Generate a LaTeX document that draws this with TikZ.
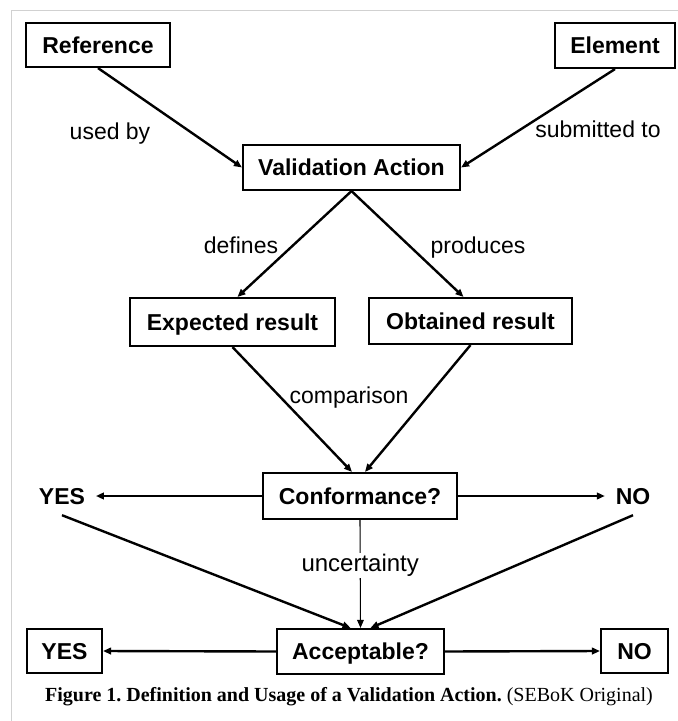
\documentclass[tikz,border=0pt]{standalone}
\usepackage{fontspec}
\setmainfont{Liberation Sans}
\newfontfamily\captionserif{Liberation Serif}
\usetikzlibrary{arrows.meta,calc}
\frenchspacing

\begin{document}
\begin{tikzpicture}[x=0.75pt,y=-0.75pt,
  box/.style={draw,line width=1.6pt,inner sep=0pt,text height=12.4pt,text depth=0pt,font=\fontsize{17.25}{20}\selectfont\bfseries},
  answer/.style={inner sep=8pt,text height=12.4pt,text depth=0pt,font=\fontsize{17.25}{20}\selectfont\bfseries},
  lbl/.style={text height=12.4pt,text depth=3.6pt,font=\fontsize{17.25}{20}\selectfont},
  conn/.style={line width=1.8pt,-{Triangle[length=6pt,width=5pt]}}]
  \useasboundingbox (0,0) rectangle (678,721);
  \draw[black!18,line width=0.75pt] (11,721)--(11,10)--(678,10);
  \node[box,minimum width=108pt,minimum height=33pt] (ref) at (98,45) {Reference};
  \node[box,minimum width=90pt,minimum height=33.75pt] (elem) at (615,45.5) {Element};
  \node[box,minimum width=162.75pt,minimum height=33.75pt] (va) at (351.5,167.5) {Validation Action};
  \node[box,minimum width=153.75pt,minimum height=36pt] (exp) at (232.5,322) {Expected result};
  \node[box,minimum width=152.25pt,minimum height=34.5pt] (obt) at (470.5,321) {Obtained result};
  \node[box,minimum width=145.5pt,minimum height=34.5pt] (conf) at (360,496) {Conformance?};
  \node[box,minimum width=125.25pt,minimum height=33.75pt] (acc) at (360.5,651.5) {Acceptable?};
  \node[box,minimum width=56.25pt,minimum height=33pt] (yesbox) at (64.5,651) {YES};
  \node[box,minimum width=50.25pt,minimum height=33pt] (nobox) at (634.5,651) {NO};
  \node[answer] (yes) at (62,496) {YES};
  \node[answer] (no) at (633,496) {NO};
  \node[lbl] (usedby) at (110,134) {used by};
  \node[lbl] (submitted) at (598,132) {submitted to};
  \node[lbl] (defines) at (241,248) {defines};
  \node[lbl] (produces) at (478,248) {produces};
  \node[lbl] (comparison) at (349,398) {comparison};
  \draw[conn] (ref.south) -- (va.west);
  \draw[conn] (elem.south) -- (va.east);
  \draw[conn] (va.south) -- ($(exp.north)+(5,0)$);
  \draw[conn] (va.south) -- ($(obt.north)+(-7,0)$);
  \draw[conn] (exp.south) -- ($(conf.north)+(-8,0)$);
  \draw[conn] (obt.south) -- ($(conf.north)+(5,0)$);
  \draw[conn] (conf.west) -- (yes.east);
  \draw[conn] (conf.east) -- (no.west);
  \draw[conn] (yes.south) -- ($(acc.north)+(-10,0)$);
  \draw[conn] (no.south) -- ($(acc.north)+(10,0)$);
  \draw[conn,line width=0.8pt] (conf.south) -- node[pos=0.42,fill=white,inner sep=1pt,text height=12.8pt,text depth=3.8pt,font=\fontsize{18}{20}\selectfont] (unc) {uncertainty} (acc.north);
  \draw[conn] (acc.west) -- (yesbox.east);
  \draw[conn] (acc.east) -- (nobox.west);
  \node[font=\captionserif\fontsize{15}{18}\selectfont] (caption) at (349,697) {\textbf{Figure 1. Definition and Usage of a Validation Action.} (SEBoK Original)};
\end{tikzpicture}
\end{document}
